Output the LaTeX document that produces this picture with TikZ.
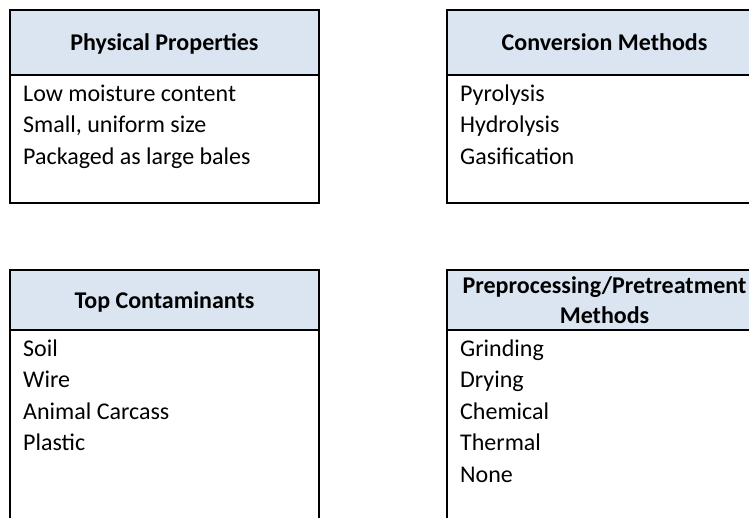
\documentclass[tikz,border=0pt]{standalone}
\usepackage{fontspec}
\setmainfont{Carlito}
\usetikzlibrary{positioning}

\definecolor{headblue}{HTML}{DBE5F1}

\tikzset{
  box/.style={draw, line width=2pt, rectangle, outer sep=0pt, inner sep=0pt},
  headbox/.style={box, fill=headblue, minimum height=65pt, align=center,
    font=\bfseries\fontsize{24}{30}\selectfont},
  oneline/.style={text height=17pt, text depth=0pt},
  bodybox/.style={box},
  items/.style={anchor=base west, inner sep=0pt, text width=280pt, align=flush left,
    font=\fontsize{24}{31.4}\selectfont},
}

\begin{document}
\begin{tikzpicture}[x=1pt, y=-1pt]
  \useasboundingbox (0,0) rectangle (749,518);
  \clip (0,0) rectangle (749,518);

  % top row
  \node[headbox, oneline, anchor=north west, minimum width=309pt] (physhead) at (10,10) {Physical Properties};
  \node[bodybox, below=0pt of physhead, minimum width=309pt, minimum height=128pt] (physbody) {};
  \node[headbox, oneline, anchor=north west, minimum width=315pt] (convhead) at (447,10) {Conversion Methods};
  \node[bodybox, below=0pt of convhead, minimum width=315pt, minimum height=128pt] (convbody) {};

  % bottom row
  \node[headbox, oneline, anchor=north west, minimum width=309pt, minimum height=60pt] (conthead) at (10,270) {Top Contaminants};
  \node[bodybox, below=0pt of conthead, minimum width=309pt, minimum height=220pt] (contbody) {};
  \node[headbox, anchor=north west, minimum width=315pt, minimum height=60pt] (prephead) at (447,270) {Preprocessing/Pretreatment\\Methods};
  \node[bodybox, below=0pt of prephead, minimum width=315pt, minimum height=220pt] (prepbody) {};

  % lists
  \node[items] (physitems) at ([xshift=13pt, yshift=-26.5pt]physbody.north west)
    {Low moisture content\\Small, uniform size\\Packaged as large bales};
  \node[items] (convitems) at ([xshift=13pt, yshift=-26.5pt]convbody.north west)
    {Pyrolysis\\Hydrolysis\\Gasification};
  \node[items] (contitems) at ([xshift=13pt, yshift=-26.5pt]contbody.north west)
    {Soil\\Wire\\Animal Carcass\\Plastic};
  \node[items] (prepitems) at ([xshift=13pt, yshift=-26.5pt]prepbody.north west)
    {Grinding\\Drying\\Chemical\\Thermal\\None};
\end{tikzpicture}
\end{document}
